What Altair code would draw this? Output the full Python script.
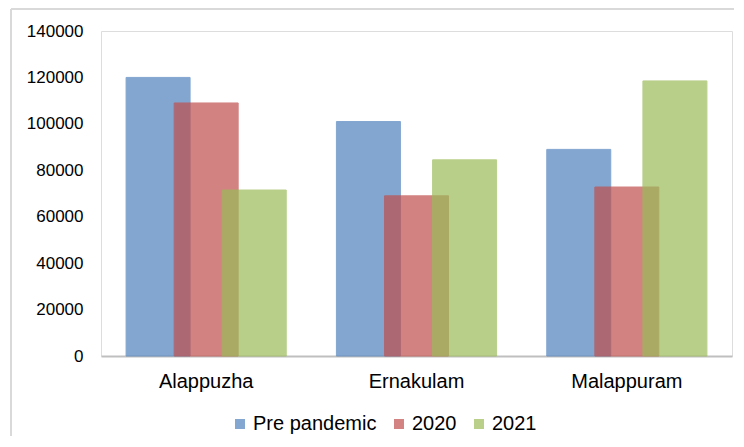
import altair as alt
import pandas as pd

districts = ["Alappuzha", "Ernakulam", "Malappuram"]
series = ["Pre pandemic", "2020", "2021"]
pre_pandemic = [120000, 101000, 89000]
y2020 = [109000, 69000, 72800]
y2021 = [71500, 84500, 118500]
colors = ["#4F81BD", "#C0504D", "#9BBB59"]
y_ticks = [0, 20000, 40000, 60000, 80000, 100000, 120000, 140000]

rows = []
for s, vals in zip(series, [pre_pandemic, y2020, y2021]):
    for d, v in zip(districts, vals):
        rows.append({"District": d, "Series": s, "Value": v})
df = pd.DataFrame(rows)

FONT = "Liberation Sans"
W, H = 631, 325

bars = alt.Chart(df).mark_bar(size=64, opacity=0.7, strokeWidth=1).encode(
    x=alt.X("District:N", sort=districts,
            scale=alt.Scale(paddingInner=0, paddingOuter=0),
            axis=alt.Axis(title=None, labelAngle=0, ticks=False, labelFontSize=20,
                          labelPadding=15, domainColor="#BFBFBF", domainWidth=2,
                          labelColor="#000", labelFont=FONT)),
    xOffset=alt.XOffset("Series:N", sort=series,
                        scale=alt.Scale(paddingInner=0, paddingOuter=0.6875)),
    y=alt.Y("Value:Q", scale=alt.Scale(domain=[0, 140000], nice=False),
            axis=alt.Axis(title=None, values=y_ticks, grid=False, ticks=False, domain=False,
                          labelFontSize=17, labelPadding=18, labelColor="#000",
                          labelFont=FONT, format="d")),
    color=alt.Color("Series:N", sort=series,
                    scale=alt.Scale(domain=series, range=colors),
                    legend=alt.Legend(title=None, orient="none", direction="horizontal",
                                      legendX=129, legendY=383, symbolType="square",
                                      symbolSize=100, symbolStrokeWidth=0, symbolOpacity=0.7,
                                      labelFontSize=20, labelFont=FONT, labelColor="#000",
                                      labelOffset=3, columnPadding=12, padding=0,
                                      labelLimit=300)),
    stroke=alt.Stroke("Series:N", sort=series,
                      scale=alt.Scale(domain=series, range=colors), legend=None),
    order=alt.Order("order:Q"),
).transform_calculate(order="indexof(['Pre pandemic','2020','2021'], datum.Series)")

border_top = alt.Chart(df).mark_rule(color="#D9D9D9", strokeWidth=2).encode(
    x=alt.value(-90), x2=alt.value(W + 20), y=alt.value(-22))
border_left = alt.Chart(df).mark_rule(color="#D9D9D9", strokeWidth=2).encode(
    x=alt.value(-90), y=alt.value(-22), y2=alt.value(H + 100))

chart = alt.layer(border_top, border_left, bars).properties(
    width=W, height=H,
    autosize=alt.AutoSizeParams(type="none"),
    padding={"left": 93, "top": 23, "right": 2, "bottom": 80},
).configure_view(stroke=None).configure(font=FONT)

chart.save("out.html", embed_options={"renderer": "svg", "actions": False})
